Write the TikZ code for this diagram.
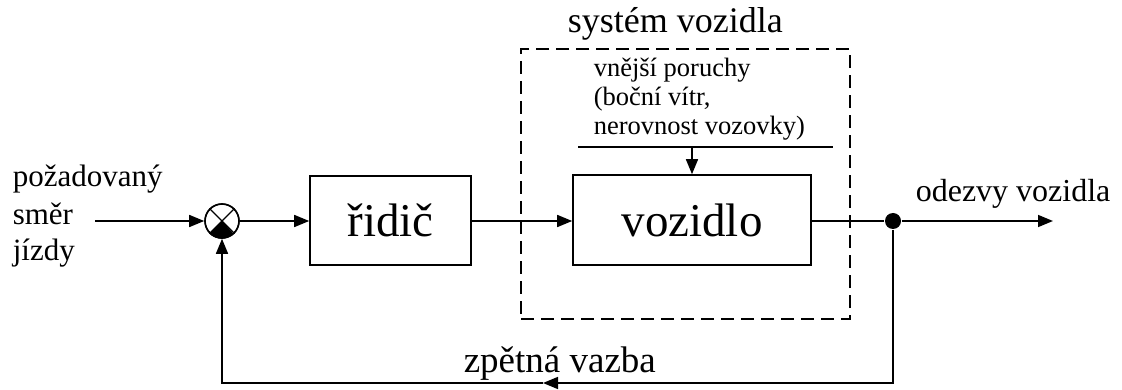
\documentclass[tikz,border=0pt]{standalone}
\usepackage{fontspec}
\setmainfont{Liberation Serif}
\usetikzlibrary{arrows.meta}
\newcommand{\fs}[1]{\fontsize{#1}{#1}\selectfont}
\begin{document}
\begin{tikzpicture}[x=1pt,y=-1pt,
  line width=1.6pt,
  arr/.style={-{Triangle[length=15pt,width=12pt]}},
  blockbox/.style={draw,rectangle,inner sep=0pt,font=\fs{47}},
  txt/.style={inner sep=0pt,anchor=base west},
  dashbox/.style={draw,dash pattern=on 13pt off 7pt,line width=1.8pt}]
\useasboundingbox (0,0) rectangle (1122,390);
% texts on the left
\node[txt,font=\fs{31}] (in1) at (12,187) {požadovaný};
\node[txt,font=\fs{31}] (in2) at (12,225) {směr};
\node[txt,font=\fs{31}] (in3) at (12,261) {jízdy};
% summing junction
\node[draw,circle,minimum size=34pt,inner sep=0pt] (sum) at (222,221) {};
\fill (sum.center) -- (sum.south west) arc[start angle=225,end angle=315,radius=17pt] -- cycle;
\draw[line width=1.3pt] (sum.north west) -- (sum.south east) (sum.north east) -- (sum.south west);
\draw[line width=1.3pt] (sum) circle[radius=17pt];
% blocks
\node[blockbox,minimum width=161pt,minimum height=89pt] (ridic) at (390.5,220.5) {řidič};
\node[blockbox,minimum width=238pt,minimum height=90pt] (voz) at (692,220) {vozidlo};
% vehicle system dashed box
\node[dashbox,minimum width=329pt,minimum height=270pt,inner sep=0pt] (sys) at (685.5,184) {};
\node[txt,font=\fs{36}] (syslbl) at (567,33) {systém vozidla};
% disturbances
\node[txt,font=\fs{26.5}] (d1) at (593,77) {vnější poruchy};
\node[txt,font=\fs{26.5}] (d2) at (593,106) {(boční vítr,};
\node[txt,font=\fs{26.5}] (d3) at (593,135) {nerovnost vozovky)};
\coordinate (dl) at (578,147);
\coordinate (dr) at (833,147);
\coordinate (dm) at (692,147);
\draw[line width=1.3pt] (dl) -- (dr);
\draw[arr] (dm) -- (voz.north);
% main signal path
\coordinate (inp) at (95,221);
\draw[arr] (inp) -- (sum.west);
\draw[arr] (sum.east) -- (ridic.west |- sum.east);
\draw[arr] (ridic.east |- 0,221) -- (voz.west |- 0,221);
\node[circle,fill,minimum size=16pt,inner sep=0pt] (dot) at (893,221) {};
\draw (voz.east |- dot) -- (dot);
\coordinate (out) at (1053,221);
\draw[arr] (dot) -- (out);
\node[txt,font=\fs{32}] (outlbl) at (915,202) {odezvy vozidla};
% feedback
\coordinate (fbm) at (543,383);
\draw[arr] (dot) |- (fbm);
\draw[arr] (fbm) -| (sum.south);
\node[txt,font=\fs{37}] (fblbl) at (463,372) {zpětná vazba};
\end{tikzpicture}
\end{document}
